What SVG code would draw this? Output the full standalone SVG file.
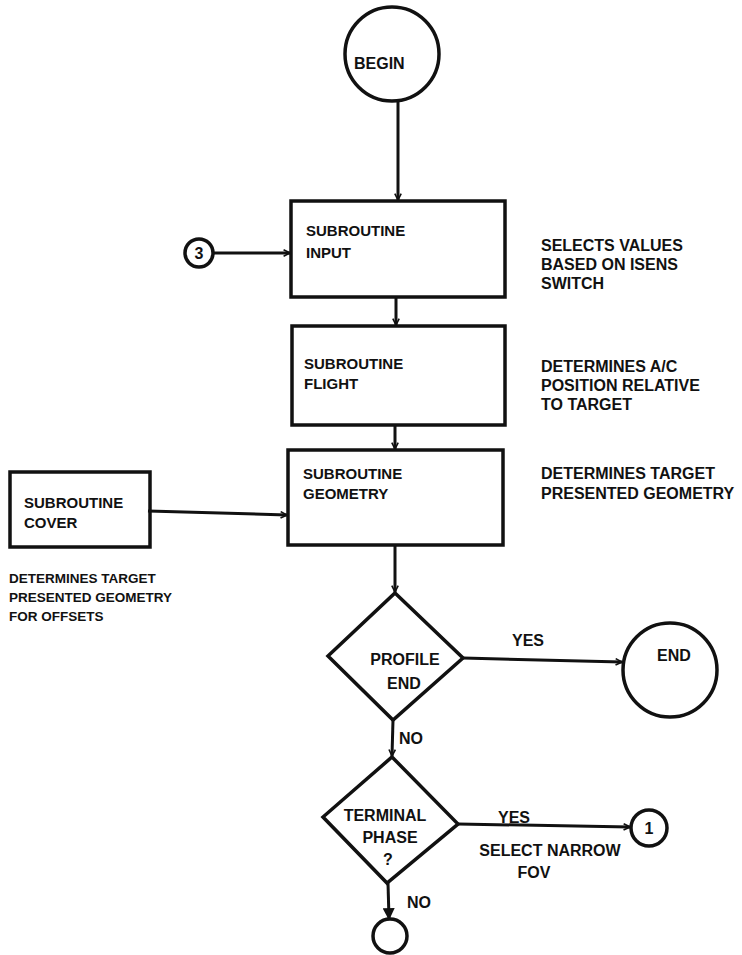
<svg xmlns="http://www.w3.org/2000/svg" width="742" height="955" viewBox="0 0 742 955">
<style>
text{font-family:"Liberation Sans","DejaVu Sans",Arial,sans-serif;font-weight:bold;font-size:16px;fill:#111}
.box{font-size:15px}
.note{font-size:13.5px}
.shape{fill:none;stroke:#111;stroke-width:3.5}
.edge{fill:none;stroke:#111;stroke-width:3}
.mid{text-anchor:middle}
</style>
<defs>
<marker id="arr" viewBox="0 0 10 10" refX="9" refY="5" markerWidth="8" markerHeight="8" markerUnits="userSpaceOnUse" orient="auto">
<path d="M1,1 L9,5 L1,9" fill="none" stroke="#111" stroke-width="2"/>
</marker>
<marker id="arrf" viewBox="0 0 10 10" refX="9" refY="5" markerWidth="12" markerHeight="12" markerUnits="userSpaceOnUse" orient="auto">
<path d="M0,0 L10,5 L0,10 Z" fill="#111"/>
</marker>
</defs>
<rect width="742" height="955" fill="#fff"/>
<g id="connectors">
<path class="edge" d="M398,102 L398,200" marker-end="url(#arr)"/>
<path class="edge" d="M213,253 L290,253" marker-end="url(#arr)"/>
<path class="edge" d="M396,298 L396,325" marker-end="url(#arr)"/>
<path class="edge" d="M395,426 L395,449" marker-end="url(#arr)"/>
<path class="edge" d="M148,511 L287,515" marker-end="url(#arr)"/>
<path class="edge" d="M395,546 L395,592" marker-end="url(#arr)"/>
<path class="edge" d="M463,658 L622,662" marker-end="url(#arr)"/>
<path class="edge" d="M393,720 L392,756" marker-end="url(#arr)"/>
<path class="edge" d="M458,824 L630,827" marker-end="url(#arr)"/>
<path class="edge" d="M388,883 L389,919" marker-end="url(#arrf)"/>
<text x="512" y="646">YES</text>
<text x="399" y="744">NO</text>
<text x="498" y="823">YES</text>
<text x="407" y="908">NO</text>
<text x="550" y="856" class="mid">SELECT NARROW</text>
<text x="534" y="878" class="mid">FOV</text>
</g>
<g id="begin">
<circle class="shape" cx="392" cy="54" r="47"/>
<text x="354" y="69">BEGIN</text>
</g>
<g id="conn3">
<circle class="shape" cx="199" cy="253" r="14"/>
<text x="199" y="259" class="mid">3</text>
</g>
<g id="input">
<rect class="shape" x="291" y="201" width="214" height="96"/>
<text x="306" y="236" class="box">SUBROUTINE</text>
<text x="306" y="258" class="box">INPUT</text>
</g>
<g id="note-input">
<text x="541" y="251">SELECTS VALUES</text>
<text x="541" y="270">BASED ON ISENS</text>
<text x="541" y="289">SWITCH</text>
</g>
<g id="flight">
<rect class="shape" x="292" y="326" width="213" height="99"/>
<text x="304" y="369" class="box">SUBROUTINE</text>
<text x="304" y="389" class="box">FLIGHT</text>
</g>
<g id="note-flight">
<text x="541" y="372">DETERMINES A/C</text>
<text x="541" y="391">POSITION RELATIVE</text>
<text x="541" y="410">TO TARGET</text>
</g>
<g id="geometry">
<rect class="shape" x="288" y="450" width="215" height="95"/>
<text x="303" y="479" class="box">SUBROUTINE</text>
<text x="303" y="499" class="box">GEOMETRY</text>
</g>
<g id="note-geometry">
<text x="541" y="479">DETERMINES TARGET</text>
<text x="541" y="499">PRESENTED GEOMETRY</text>
</g>
<g id="cover">
<rect class="shape" x="10" y="472" width="140" height="75"/>
<text x="24" y="508" class="box">SUBROUTINE</text>
<text x="24" y="528" class="box">COVER</text>
</g>
<g id="note-cover">
<text x="9" y="583" class="note">DETERMINES TARGET</text>
<text x="9" y="602" class="note">PRESENTED GEOMETRY</text>
<text x="9" y="621" class="note">FOR OFFSETS</text>
</g>
<g id="profile">
<path class="shape" d="M395,593 L463,658 L393,720 L328,656 Z"/>
<text x="405" y="665" class="mid">PROFILE</text>
<text x="404" y="689" class="mid">END</text>
</g>
<g id="end">
<circle class="shape" cx="670" cy="670" r="47"/>
<text x="674" y="661" class="mid">END</text>
</g>
<g id="terminal">
<path class="shape" d="M392,757 L458,824 L387,883 L323,817 Z"/>
<text x="385" y="821" class="mid">TERMINAL</text>
<text x="390" y="843" class="mid">PHASE</text>
<text x="388" y="865" class="mid">?</text>
</g>
<g id="conn1">
<circle class="shape" cx="649" cy="828" r="18"/>
<text x="649" y="834" class="mid">1</text>
</g>
<g id="conn-bottom">
<circle class="shape" cx="390" cy="936" r="17"/>
</g>
</svg>
